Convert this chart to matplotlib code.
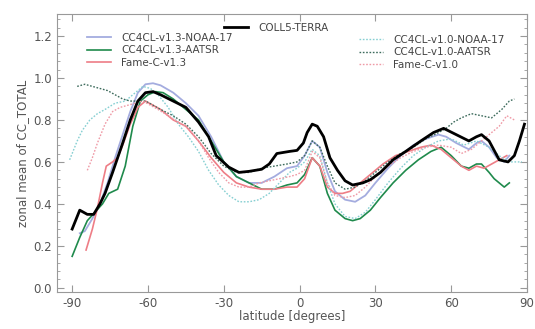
import matplotlib
matplotlib.use("Agg")
import matplotlib.pyplot as plt
from matplotlib.ticker import MultipleLocator

# ---- data ----
lat_terra = [-90, -87, -84, -81.5, -79, -77, -74, -70, -67, -64, -61, -58, -55, -50, -45, -40, -36, -33, -28, -24,
             -20, -15, -12, -9, -4, -1, 1.5, 3, 5, 7, 9.5, 12, 15, 18, 21, 25, 28, 32, 37, 42, 48, 53, 57, 62, 67,
             70, 72, 75, 79, 82.5, 85, 87, 89]
val_terra = [0.28, 0.37, 0.35, 0.35, 0.40, 0.45, 0.55, 0.69, 0.80, 0.89, 0.93, 0.935, 0.92, 0.89, 0.86, 0.79, 0.72,
             0.63, 0.575, 0.55, 0.555, 0.565, 0.59, 0.64, 0.65, 0.655, 0.69, 0.74, 0.78, 0.77, 0.72, 0.62, 0.56,
             0.51, 0.49, 0.50, 0.515, 0.55, 0.61, 0.65, 0.70, 0.74, 0.76, 0.73, 0.70, 0.72, 0.73, 0.70, 0.61, 0.60,
             0.63, 0.70, 0.78]

lat_noaa13 = [-87, -85, -82, -79, -76, -73, -70, -67, -64, -61, -58, -55, -50, -45, -40, -35, -30, -25, -20, -15,
              -10, -5, -1, 2, 5, 8, 11, 14, 18, 22, 26, 30, 35, 40, 45, 50, 55, 58, 62, 67, 70, 72, 75, 78, 81, 83]
val_noaa13 = [0.26, 0.27, 0.33, 0.40, 0.50, 0.62, 0.73, 0.84, 0.93, 0.97, 0.975, 0.965, 0.93, 0.88, 0.82, 0.72,
              0.60, 0.53, 0.50, 0.50, 0.53, 0.57, 0.58, 0.63, 0.70, 0.67, 0.55, 0.46, 0.42, 0.41, 0.44, 0.50, 0.57,
              0.63, 0.68, 0.71, 0.73, 0.72, 0.69, 0.66, 0.69, 0.70, 0.67, 0.62, 0.60, 0.63]

lat_aatsr13 = [-90, -87, -84, -81, -78, -75.5, -72, -69, -66, -63, -60, -57, -54, -50, -45, -40, -35, -30, -25,
               -20, -15, -10, -5, -1, 2, 5, 8, 11, 14, 18, 21, 24, 28, 32, 37, 42, 47, 52, 56, 60, 64, 67, 70, 72,
               75, 77, 79, 81, 83]
val_aatsr13 = [0.15, 0.24, 0.32, 0.36, 0.40, 0.45, 0.47, 0.58, 0.77, 0.89, 0.92, 0.935, 0.93, 0.90, 0.85, 0.80,
               0.70, 0.60, 0.53, 0.50, 0.47, 0.47, 0.49, 0.50, 0.54, 0.62, 0.58, 0.45, 0.37, 0.33, 0.32, 0.33, 0.37,
               0.43, 0.50, 0.56, 0.61, 0.65, 0.67, 0.63, 0.58, 0.57, 0.59, 0.59, 0.55, 0.52, 0.50, 0.48, 0.50]

lat_famec13 = [-84.5, -82, -80, -78, -76.5, -74, -72, -70, -67, -64, -61, -58, -55, -50, -45, -40, -35, -30, -25,
               -20, -15, -10, -5, -1, 2, 5, 8, 11, 14, 17, 20, 24, 28, 33, 38, 43, 48, 52, 56, 60, 64, 67, 70, 73,
               76, 79, 82]
val_famec13 = [0.18, 0.28, 0.38, 0.50, 0.58, 0.60, 0.62, 0.68, 0.78, 0.86, 0.89, 0.87, 0.85, 0.80, 0.77, 0.70,
               0.62, 0.55, 0.50, 0.48, 0.47, 0.47, 0.48, 0.48, 0.52, 0.62, 0.58, 0.48, 0.45, 0.45, 0.46, 0.50, 0.54,
               0.59, 0.63, 0.65, 0.67, 0.68, 0.66, 0.62, 0.58, 0.56, 0.58, 0.57, 0.59, 0.61, 0.63]

lat_noaa10 = [-91, -88, -86, -83, -80, -77, -73, -69, -65, -62, -59, -56, -52, -48, -44, -40, -36, -32, -28, -24,
              -20, -16, -12, -8, -4, -1, 2, 5, 8, 11, 14, 18, 22, 26, 30, 35, 40, 45, 50, 55, 60, 65, 70, 75, 80,
              84, 88]
val_noaa10 = [0.61, 0.70, 0.75, 0.80, 0.83, 0.85, 0.88, 0.89, 0.93, 0.96, 0.95, 0.92, 0.86, 0.78, 0.72, 0.65,
              0.56, 0.49, 0.44, 0.41, 0.41, 0.42, 0.45, 0.50, 0.55, 0.57, 0.60, 0.66, 0.63, 0.50, 0.40, 0.34, 0.33,
              0.36, 0.42, 0.50, 0.57, 0.63, 0.67, 0.70, 0.71, 0.68, 0.70, 0.67, 0.62, 0.60, 0.60]

lat_aatsr10 = [-88, -85, -82, -79, -76, -73, -70, -67, -64, -61, -58, -55, -50, -45, -40, -35, -30, -25, -20, -15,
               -10, -5, -1, 2, 5, 8, 11, 14, 18, 22, 26, 30, 35, 40, 45, 50, 55, 58, 61, 64, 68, 72, 76, 80, 83, 85]
val_aatsr10 = [0.96, 0.97, 0.96, 0.95, 0.94, 0.92, 0.90, 0.89, 0.89, 0.89, 0.87, 0.85, 0.82, 0.78, 0.72, 0.64,
               0.58, 0.55, 0.55, 0.57, 0.58, 0.59, 0.60, 0.63, 0.70, 0.67, 0.58, 0.50, 0.47, 0.48, 0.51, 0.55, 0.60,
               0.64, 0.67, 0.71, 0.74, 0.76, 0.79, 0.81, 0.83, 0.82, 0.81, 0.85, 0.89, 0.90]

lat_famec10 = [-84, -82, -80, -77, -74, -71, -68, -65, -62, -59, -56, -52, -48, -44, -40, -36, -32, -28, -24, -20,
               -16, -12, -8, -4, -1, 2, 5, 8, 11, 14, 18, 22, 26, 30, 35, 40, 45, 50, 55, 60, 64, 68, 72, 76, 79,
               82, 85]
val_famec10 = [0.56, 0.62, 0.69, 0.78, 0.84, 0.86, 0.87, 0.88, 0.89, 0.87, 0.85, 0.82, 0.79, 0.76, 0.70, 0.62,
               0.55, 0.50, 0.48, 0.48, 0.50, 0.51, 0.52, 0.53, 0.54, 0.56, 0.65, 0.62, 0.50, 0.44, 0.43, 0.44, 0.48,
               0.53, 0.58, 0.62, 0.65, 0.67, 0.68, 0.67, 0.64, 0.66, 0.70, 0.74, 0.77, 0.82, 0.80]

x_ticks = [-90, -60, -30, 0, 30, 60, 90]
y_ticks = [0.0, 0.2, 0.4, 0.6, 0.8, 1.0, 1.2]

# ---- figure ----
fig = plt.figure(figsize=(5.35, 3.29), dpi=100)
ax = fig.add_axes([57 / 535, 1 - 292 / 329, (527 - 57) / 535, (292 - 14) / 329])

c_noaa = "#a4acdf"
c_aatsr = "#1f8a4c"
c_famec = "#ee7d86"
c_noaa10 = "#86cfd2"
c_aatsr10 = "#3d6b5c"
c_famec10 = "#ef9aa6"

h_noaa13, = ax.plot(lat_noaa13, val_noaa13, color=c_noaa, lw=1.3, label="CC4CL-v1.3-NOAA-17")
h_aatsr13, = ax.plot(lat_aatsr13, val_aatsr13, color=c_aatsr, lw=1.2, label="CC4CL-v1.3-AATSR")
h_famec13, = ax.plot(lat_famec13, val_famec13, color=c_famec, lw=1.2, label="Fame-C-v1.3")
h_noaa10, = ax.plot(lat_noaa10, val_noaa10, color=c_noaa10, lw=1.0, ls=(0, (1.2, 1.2)), label="CC4CL-v1.0-NOAA-17")
h_aatsr10, = ax.plot(lat_aatsr10, val_aatsr10, color=c_aatsr10, lw=1.0, ls=(0, (1.2, 1.2)), label="CC4CL-v1.0-AATSR")
h_famec10, = ax.plot(lat_famec10, val_famec10, color=c_famec10, lw=1.0, ls=(0, (1.2, 1.2)), label="Fame-C-v1.0")
h_terra, = ax.plot(lat_terra, val_terra, color="black", lw=2.0, label="COLL5-TERRA")

ax.set_xlim(-96, 90)
ax.set_ylim(-0.02, 1.305)
ax.set_xticks(x_ticks)
ax.set_xticklabels([str(v) for v in x_ticks])
ax.set_yticks(y_ticks)
ax.set_yticklabels([f"{v:.1f}" for v in y_ticks])
ax.yaxis.set_minor_locator(MultipleLocator(0.04))
ax.tick_params(which="both", direction="in", top=True, right=True, colors="#999999",
               labelcolor="#555555", labelsize=8.5)
ax.tick_params(which="major", length=5, width=0.8)
ax.tick_params(which="minor", length=2.5, width=0.6)
for s in ax.spines.values():
    s.set_color("#999999")
    s.set_linewidth(0.8)

ax.set_xlabel("latitude [degrees]", fontsize=8.5, color="#555555", labelpad=0)
ax.set_ylabel("zonal mean of CC_TOTAL", fontsize=8.5, color="#555555", labelpad=3)

leg_kw = dict(frameon=False, fontsize=7.5, handlelength=2.3, handletextpad=1.0,
              labelspacing=0.22, borderpad=0, borderaxespad=0)
leg1 = fig.legend(handles=[h_noaa13, h_aatsr13, h_famec13], loc="upper left",
                  bbox_to_anchor=(87 / 535, 1 - 33 / 329), **leg_kw)
leg2 = fig.legend(handles=[h_terra], loc="upper left",
                  bbox_to_anchor=(224 / 535, 1 - 23 / 329), **leg_kw)
leg3 = fig.legend(handles=[h_noaa10, h_aatsr10, h_famec10], loc="upper left",
                  bbox_to_anchor=(359 / 535, 1 - 35 / 329), **leg_kw)
for lg in (leg1, leg2, leg3):
    for t in lg.get_texts():
        t.set_color("#444444")

fig.savefig("out.png", dpi=100)
